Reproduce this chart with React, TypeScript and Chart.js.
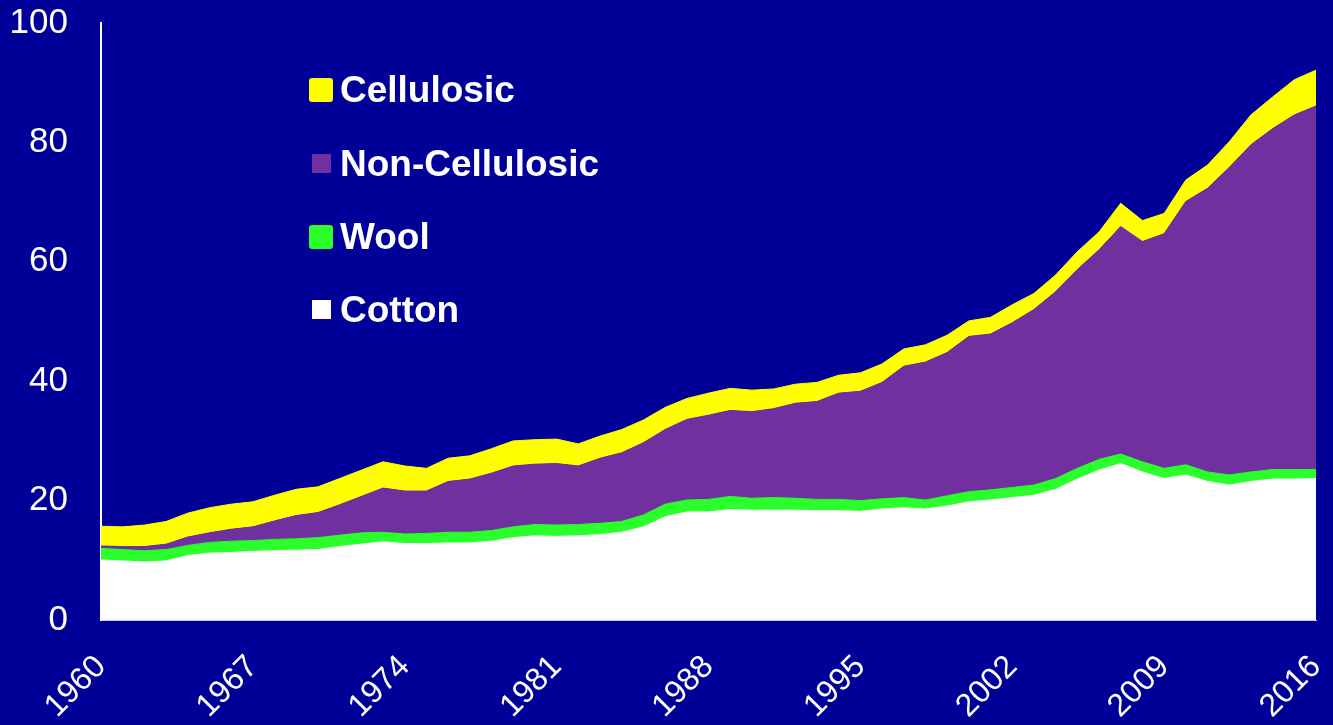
import React, { useEffect, useRef } from 'react';
import { Chart, registerables } from 'chart.js';

Chart.register(...registerables);

const years = [
  '1960', '1961', '1962', '1963', '1964', '1965', '1966', '1967', '1968', '1969',
  '1970', '1971', '1972', '1973', '1974', '1975', '1976', '1977', '1978', '1979',
  '1980', '1981', '1982', '1983', '1984', '1985', '1986', '1987', '1988', '1989',
  '1990', '1991', '1992', '1993', '1994', '1995', '1996', '1997', '1998', '1999',
  '2000', '2001', '2002', '2003', '2004', '2005', '2006', '2007', '2008', '2009',
  '2010', '2011', '2012', '2013', '2014', '2015', '2016',
];

const shownYearLabels = ['1960', '1967', '1974', '1981', '1988', '1995', '2002', '2009', '2016'];

const cotton = [
  10.05, 9.9, 9.7, 9.9, 10.8, 11.2, 11.3, 11.5, 11.6, 11.7,
  11.8, 12.3, 12.7, 13.1, 12.8, 12.8, 12.9, 12.9, 13.2, 13.8,
  14.1, 14.0, 14.1, 14.3, 14.7, 15.6, 17.3, 18.1, 18.1, 18.5,
  18.4, 18.4, 18.4, 18.3, 18.3, 18.2, 18.6, 18.8, 18.6, 19.1,
  19.8, 20.1, 20.5, 20.9, 21.9, 23.6, 25.1, 26.2, 24.8, 23.7,
  24.3, 23.2, 22.6, 23.2, 23.6, 23.6, 23.7,
];

const wool = [
  1.95, 1.9, 1.9, 1.9, 1.7, 1.8, 1.9, 1.8, 1.9, 1.9,
  2.0, 1.9, 1.9, 1.6, 1.6, 1.7, 1.8, 1.8, 1.8, 1.8,
  1.9, 1.9, 1.9, 1.9, 1.8, 2.0, 2.1, 2.0, 2.1, 2.2,
  2.0, 2.1, 2.0, 1.9, 1.9, 1.8, 1.7, 1.7, 1.5, 1.7,
  1.7, 1.7, 1.7, 1.7, 1.8, 1.8, 1.8, 1.6, 1.7, 1.7,
  1.7, 1.6, 1.7, 1.6, 1.6, 1.6, 1.5,
];

const nonCellulosic = [
  0.4, 0.5, 0.7, 0.9, 1.4, 1.6, 2.0, 2.3, 3.1, 3.9,
  4.2, 5.1, 6.1, 7.4, 7.2, 7.1, 8.5, 8.9, 9.6, 10.2,
  10.1, 10.3, 9.8, 10.9, 11.5, 12.1, 12.5, 13.5, 14.1, 14.4,
  14.5, 14.9, 15.9, 16.4, 17.8, 18.3, 19.5, 22.0, 23.1, 24.0,
  26.0, 26.1, 27.6, 29.4, 31.3, 33.3, 35.1, 38.1, 36.9, 39.3,
  44.1, 47.5, 51.5, 54.8, 57.1, 59.4, 60.9,
];

const cellulosic = [
  3.3, 3.3, 3.6, 3.8, 4.0, 4.2, 4.2, 4.2, 4.3, 4.4,
  4.3, 4.4, 4.4, 4.4, 4.2, 3.8, 3.9, 3.9, 4.1, 4.2,
  4.1, 4.1, 3.7, 3.7, 3.9, 3.8, 3.7, 3.5, 3.7, 3.7,
  3.6, 3.3, 3.2, 3.2, 3.0, 3.1, 3.1, 2.9, 2.9, 2.9,
  2.6, 2.8, 3.0, 2.7, 2.8, 3.0, 3.0, 3.9, 3.5, 3.4,
  3.6, 3.9, 4.3, 5.0, 5.3, 5.9, 6.0,
];

const seriesNames = ['Cotton', 'Wool', 'Non-Cellulosic', 'Cellulosic'];
const seriesColors = ['#FFFFFF', '#2BFF2B', '#7030A0', '#FFFF00'];
const legendOrder = ['Cellulosic', 'Non-Cellulosic', 'Wool', 'Cotton'];
const legendBoxSizes = [24, 19, 24, 19];
const legendCenters = [89.5, 163.5, 236.5, 309.5];

const BG = '#000099';
const FONT = '"Liberation Sans", Arial, sans-serif';

export default function App() {
  const canvasRef = useRef<HTMLCanvasElement | null>(null);

  useEffect(() => {
    const canvas = canvasRef.current;
    if (!canvas) return;
    const values = [cotton, wool, nonCellulosic, cellulosic];
    const chart = new Chart(canvas, {
      type: 'line',
      data: {
        labels: years,
        datasets: seriesNames.map((name, i) => ({
          label: name,
          data: values[i],
          backgroundColor: seriesColors[i],
          borderColor: seriesColors[i],
          borderWidth: 1,
          pointRadius: 0,
          pointHoverRadius: 0,
          tension: 0,
          fill: i === 0 ? 'origin' : '-1',
        })),
      },
      options: {
        responsive: false,
        animation: false,
        events: [],
        layout: { padding: { top: 23, right: 17, left: 0, bottom: 0 } },
        plugins: {
          legend: { display: false },
          tooltip: { enabled: false },
        },
        scales: {
          x: {
            type: 'category',
            offset: false,
            grid: { display: false, drawTicks: false },
            border: { display: true, color: '#C8C8F0', width: 1 },
            ticks: {
              autoSkip: false,
              maxRotation: 45,
              minRotation: 45,
              color: '#FFFFFF',
              padding: 28,
              font: { family: FONT, size: 32 },
              callback: function (this: any, value: any, index: number) {
                const lbl = years[index];
                return shownYearLabels.includes(lbl) ? lbl : null;
              },
            },
            afterFit: (scale: any) => {
              scale.height = 105;
              scale.paddingLeft = 0;
              scale.paddingRight = 0;
              scale.paddingTop = 0;
              scale.paddingBottom = 0;
            },
          },
          y: {
            stacked: true,
            min: 0,
            max: 100,
            grid: { display: false, drawTicks: false },
            border: { display: true, color: '#FFFFFF', width: 2 },
            ticks: {
              stepSize: 20,
              color: '#FFFFFF',
              padding: 33,
              font: { family: FONT, size: 35 },
            },
            afterFit: (scale: any) => {
              scale.width = 101;
              scale.paddingLeft = 0;
              scale.paddingRight = 0;
              scale.paddingTop = 0;
              scale.paddingBottom = 0;
            },
          },
        },
      },
    });
    return () => chart.destroy();
  }, []);

  return (
    <div
      style={{
        position: 'fixed',
        left: 0,
        top: 0,
        width: 1333,
        height: 725,
        background: BG,
        overflow: 'hidden',
      }}
    >
      <canvas ref={canvasRef} width={1333} height={725} style={{ display: 'block' }} />
      {legendOrder.map((name, k) => {
        const idx = seriesNames.indexOf(name);
        const size = legendBoxSizes[k];
        return (
          <div
            key={name}
            style={{
              position: 'absolute',
              left: 309,
              top: legendCenters[k] - 20,
              height: 40,
              display: 'flex',
              alignItems: 'center',
              fontFamily: FONT,
              fontWeight: 'bold',
              fontSize: 37,
              lineHeight: '40px',
              color: '#FFFFFF',
              whiteSpace: 'nowrap',
            }}
          >
            <div style={{ width: 24, height: 40, display: 'flex', alignItems: 'center', justifyContent: 'center' }}>
              <div
                style={{
                  width: size,
                  height: size,
                  background: seriesColors[idx],
                  borderRadius: size > 20 ? 3 : 0,
                }}
              />
            </div>
            <span style={{ marginLeft: 7 }}>{name}</span>
          </div>
        );
      })}
    </div>
  );
}
